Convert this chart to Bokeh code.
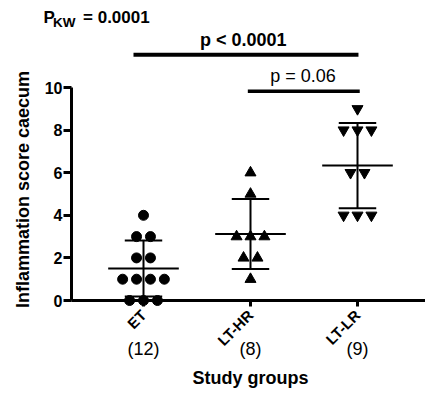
import numpy as np
from math import pi
from bokeh.plotting import figure
from bokeh.models import Range1d, Label, FixedTicker
from bokeh.embed import file_html
from bokeh.resources import INLINE

# ---- data ----
groups = ["ET", "LT-HR", "LT-LR"]
group_counts = ["(12)", "(8)", "(9)"]
et_scores = [4, 3, 3, 2, 2, 1, 1, 1, 1, 0, 0, 0]
lthr_scores = [6, 5, 3, 3, 3, 2, 2, 1]
ltlr_scores = [9, 8, 8, 8, 6, 6, 4, 4, 4]
y_ticks = [0, 2, 4, 6, 8, 10]
p_kw_text = "= 0.0001"
p_all_text = "p < 0.0001"
p_hr_lr_text = "p = 0.06"
x_title = "Study groups"
y_title = "Inflammation score caecum"

FONT = "Liberation Sans"
STEP = 0.13   # horizontal spread between tied points (data units)
X_AXIS_AT = 0.327

# the frame spans the whole canvas; axes are pinned with fixed_location
p = figure(width=425, height=394,
           x_range=Range1d(-0.3364, 3.6355), y_range=Range1d(-4.413, 14.085),
           output_backend="svg", toolbar_location=None,
           min_border_left=0, min_border_right=0, min_border_top=0, min_border_bottom=0)
p.outline_line_color = None
p.grid.visible = False
p.background_fill_color = "white"
p.border_fill_color = "white"

ya = p.yaxis[0]
ya.fixed_location = X_AXIS_AT
ya.bounds = (0, 10)
ya.ticker = FixedTicker(ticks=y_ticks)
ya.minor_tick_line_color = None
ya.axis_line_width = 3
ya.major_tick_line_width = 3
ya.major_tick_in = 0
ya.major_tick_out = 8
ya.major_label_text_font = FONT
ya.major_label_text_font_style = "bold"
ya.major_label_text_font_size = "16px"
ya.major_label_standoff = 1
ya.axis_line_color = "black"
ya.major_tick_line_color = "black"
ya.major_label_text_color = "black"

xa = p.xaxis[0]
xa.fixed_location = 0
xa.bounds = (X_AXIS_AT, 3.7)
xa.ticker = FixedTicker(ticks=[1, 2, 3])
xa.major_label_overrides = {i + 1: g for i, g in enumerate(groups)}
xa.major_label_orientation = pi / 4
xa.major_label_text_font = FONT
xa.major_label_text_font_style = "bold"
xa.major_label_text_font_size = "15px"
xa.major_label_text_color = "black"
xa.major_label_standoff = 6
xa.minor_tick_line_color = None
xa.axis_line_width = 3
xa.major_tick_line_width = 3
xa.major_tick_in = 0
xa.major_tick_out = 6
xa.axis_line_color = "black"
xa.major_tick_line_color = "black"


def spread(vals, center):
    vals = np.asarray(vals, dtype=float)
    xs = np.zeros_like(vals)
    for v in np.unique(vals):
        idx = np.where(vals == v)[0]
        k = len(idx)
        xs[idx] = center + (np.arange(k) - (k - 1) / 2) * STEP
    return xs


series = [(et_scores, "circle"), (lthr_scores, "triangle"), (ltlr_scores, "inverted_triangle")]
for i, (vals, marker) in enumerate(series):
    c = i + 1
    xs = spread(vals, c)
    p.scatter(xs, vals, marker=marker, size=10 if marker == "circle" else 11,
              fill_color="black", line_color="black")
    m = float(np.mean(vals))
    sd = float(np.std(vals, ddof=1))
    p.segment(x0=[c - 0.33], y0=[m], x1=[c + 0.33], y1=[m], line_color="black", line_width=2)
    p.segment(x0=[c], y0=[m - sd], x1=[c], y1=[m + sd], line_color="black", line_width=2)
    p.segment(x0=[c - 0.175, c - 0.175], y0=[m - sd, m + sd],
              x1=[c + 0.175, c + 0.175], y1=[m - sd, m + sd], line_color="black", line_width=2)

# significance bars
p.segment(x0=[0.9065], y0=[11.535], x1=[3.009], y1=[11.535], line_color="black", line_width=4)
p.segment(x0=[1.975], y0=[9.826], x1=[3.021], y1=[9.826], line_color="black", line_width=3.5)


def lab(x, y, text, size, bold=False, align="left", baseline="alphabetic", angle=0.0):
    p.add_layout(Label(x=x, y=y, text=text, text_font=FONT, text_font_size=size,
                       text_font_style="bold" if bold else "normal",
                       text_align=align, text_baseline=baseline, angle=angle,
                       text_color="black"))


lab(1.932, 12.25, p_all_text, "18px", bold=True, align="center")
lab(2.491, 10.56, p_hr_lr_text, "18px", align="center")
lab(0.0654, 13.31, "P", "17px", bold=True)
lab(0.155, 13.03, "KW", "13.5px", bold=True)
lab(0.435, 13.31, p_kw_text, "17px", bold=True)

for i, n in enumerate(group_counts):
    lab(i + 1, -2.254, n, "18px", align="center", baseline="middle")

lab(2.0, -3.66, x_title, "18px", bold=True, align="center", baseline="middle")
lab(-0.126, 5.21, y_title, "18px", bold=True, align="center", baseline="middle", angle=pi / 2)

open("out.html", "w").write(file_html(p, INLINE))
